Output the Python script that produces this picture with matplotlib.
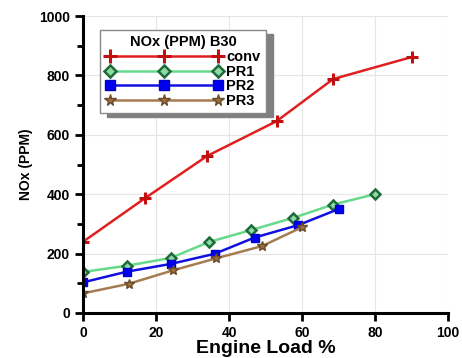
import matplotlib
matplotlib.use("Agg")
import matplotlib.pyplot as plt
from matplotlib.ticker import MultipleLocator

plt.rcParams['font.family'] = ['Liberation Sans', 'DejaVu Sans']
plt.rcParams['font.weight'] = 'bold'

# data
conv_x = [0, 17, 34, 53, 68.5, 90]
conv_y = [240, 387, 529, 646, 788, 862]
pr1_x = [0, 12, 24, 34.5, 46, 57.5, 68.5, 80]
pr1_y = [138, 159, 185, 239, 279, 320, 365, 400]
pr2_x = [0, 12, 24, 36, 47, 59, 70]
pr2_y = [103, 139, 165, 199, 254, 296, 350]
pr3_x = [0, 12.5, 24.5, 36.5, 49, 60]
pr3_y = [66, 98, 143, 184, 225, 289]

fig = plt.figure(figsize=(4.62, 3.58), dpi=100)
ax = fig.add_axes([0.18, 0.126, 0.79, 0.829])

ax.plot(conv_x, conv_y, color='#e02020', lw=1.8, marker='+', ms=8, mew=2.2,
        mec='#c01010', label='conv')
ax.plot(pr1_x, pr1_y, color='#66d98a', lw=1.8, marker='D', ms=5, mew=1.8,
        mfc='#8fd9a4', mec='#1d6b38', label='PR1')
ax.plot(pr2_x, pr2_y, color='#1010e0', lw=1.8, marker='s', ms=6,
        mfc='#0000ee', mec='#0000cc', label='PR2')
ax.plot(pr3_x, pr3_y, color='#a57c52', lw=1.8, marker='*', ms=7,
        mfc='#9a7040', mec='#6b4a28', label='PR3')

ax.set_xlim(0, 100)
ax.set_ylim(0, 1000)
ax.xaxis.set_major_locator(MultipleLocator(20))
ax.yaxis.set_major_locator(MultipleLocator(200))
ax.yaxis.set_minor_locator(MultipleLocator(100))
ax.grid(True, color='#e6e6e6', lw=0.8)
ax.set_axisbelow(True)

for s in ['top', 'right']:
    ax.spines[s].set_visible(False)
for s in ['left', 'bottom']:
    ax.spines[s].set_linewidth(2.2)
ax.tick_params(which='major', width=2, length=6, labelsize=10)
ax.tick_params(which='minor', width=2, length=4)

ax.set_xlabel('Engine Load %', fontsize=14, fontweight='bold', labelpad=0)
ax.set_ylabel('NOx (PPM)', fontsize=10, fontweight='bold')

leg = ax.legend(title='NOx (PPM) B30', loc='upper left',
                bbox_to_anchor=(0.047, 0.953), borderaxespad=0,
                numpoints=3, markerscale=1.2,
                shadow={'color': '#808080', 'alpha': 1, 'ox': 5, 'oy': -3},
                fancybox=False, framealpha=1, edgecolor='#888888',
                fontsize=10.5, title_fontsize=10.5, handlelength=8,
                borderpad=0.35, labelspacing=0.05, handletextpad=0.3)
leg.get_title().set_fontweight('bold')
leg.get_frame().set_linewidth(1.0)

fig.savefig('out.png', dpi=100)
